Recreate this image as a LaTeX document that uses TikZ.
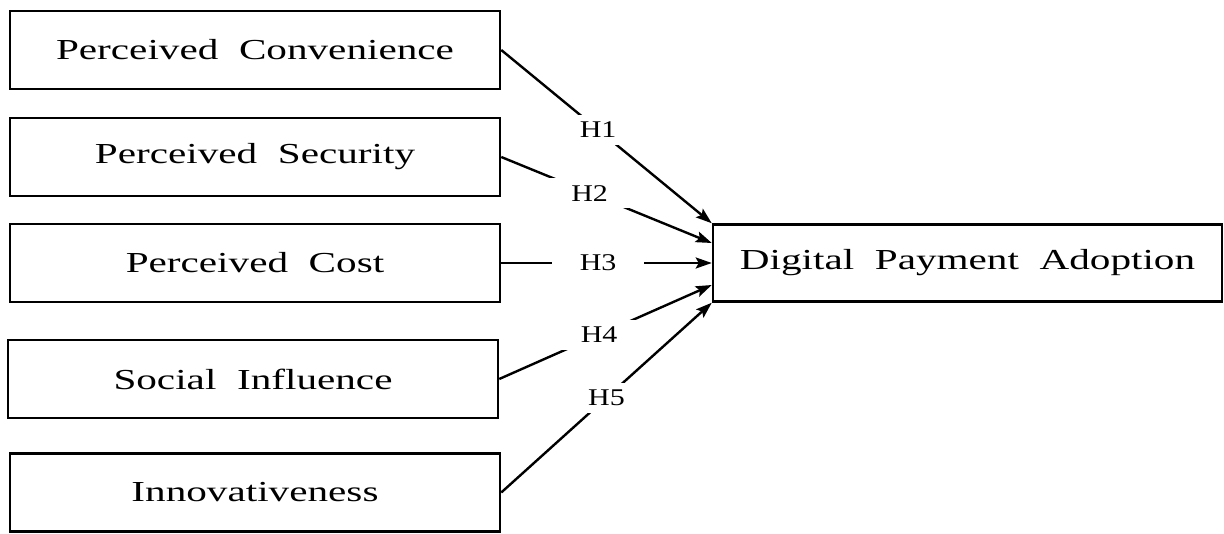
\documentclass[tikz,border=0pt]{standalone}
\usepackage{fontspec}
\setmainfont{Liberation Serif}
\usetikzlibrary{arrows.meta}
\newcommand\widetxt[1]{\scalebox{1.42}[1]{#1}}
\newcommand\hyptxt[1]{\scalebox{1.25}[1]{#1}}
\begin{document}
\begin{tikzpicture}[x=1pt,y=-1pt,
  box/.style={draw,line width=2.5pt,minimum width=490pt,minimum height=78pt,inner sep=0pt,font=\fontsize{29}{32}\selectfont},
  conn/.style={line width=2.4pt,-{Stealth[length=16pt,width=11pt,inset=3pt]}},
  hyp/.style={fill=white,minimum width=92pt,minimum height=30pt,inner sep=0pt,font=\fontsize{24}{28}\selectfont}]
\useasboundingbox (0,0) rectangle (1224,534);
\node[box] (b1) at (255,50) {\widetxt{Perceived\ \ Convenience}};
\node[box] (b2) at (255,157) {\widetxt{Perceived\ \ Security}};
\node[box] (b3) at (255,263) {\widetxt{Perceived\ \ Cost}};
\node[box] (b4) at (253,379) {\widetxt{Social\ \ Influence}};
\node[box] (b5) at (255,492.5) {\widetxt{Innovativeness}};
\node[box,minimum width=509pt,minimum height=77pt] (out) at (967.5,263) {\widetxt{Digital\ \ Payment\ \ Adoption}};
\draw[conn] (b1.east) -- node[hyp,pos=0.46] (h1) {\hyptxt{H1}} (out.north west);
\draw[conn] (b2.east) -- node[hyp,pos=0.42] (h2) {\hyptxt{H2}} ([yshift=20pt]out.west);
\draw[conn] (b3.east) -- node[hyp,pos=0.46] (h3) {\hyptxt{H3}} (out.west);
\draw[conn] (b4.east) -- node[hyp,pos=0.47] (h4) {\hyptxt{H4}} ([yshift=-22pt]out.west);
\draw[conn] (b5.east) -- node[hyp,pos=0.5] (h5) {\hyptxt{H5}} (out.south west);
\end{tikzpicture}
\end{document}
